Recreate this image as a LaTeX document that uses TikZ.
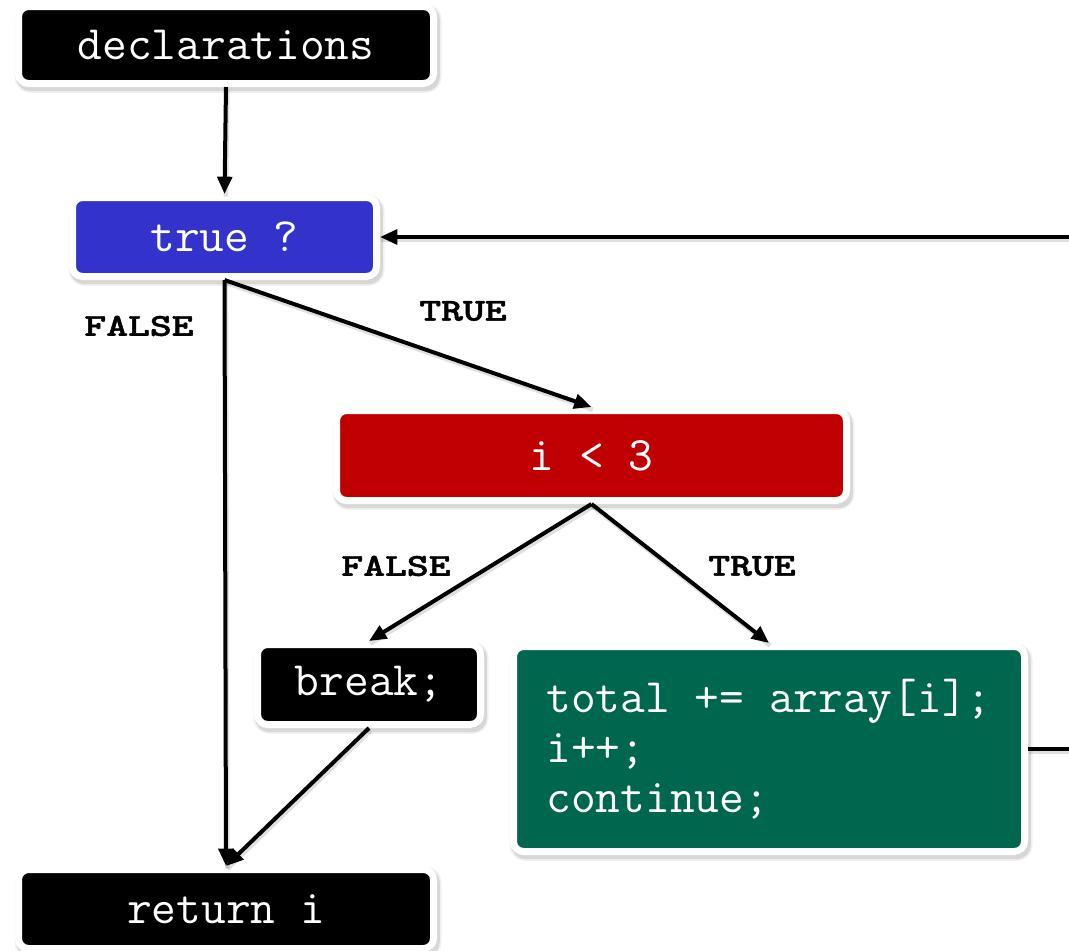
\documentclass[tikz,border=0pt]{standalone}
\usepackage{graphicx}
\usepackage{fontspec}
\newfontfamily\lblfont{lmmonolt10-bold}[Extension=.otf, FakeBold=1.2]
\usetikzlibrary{arrows.meta}

\definecolor{qblue}{RGB}{51,51,204}
\definecolor{qred}{RGB}{192,0,0}
\definecolor{qgreen}{RGB}{0,103,79}

\begin{document}
\begin{tikzpicture}[x=0.75pt,y=-0.75pt,
  softshadow/.style={
    preaction={draw=black, fill=black, opacity=0.06, line width=9pt,
      transform canvas={xshift=1.5pt,yshift=-2.5pt}},
    preaction={draw=black, fill=black, opacity=0.10, line width=6.5pt,
      transform canvas={xshift=1.5pt,yshift=-2.5pt}}},
  codebox/.style={softshadow, draw=white, line width=5.25pt, rounded corners=7.5pt,
    text=white, inner sep=0pt,
    font=\ttfamily\fontsize{36}{37.5}\selectfont},
  lbl/.style={inner sep=0pt, font=\lblfont\fontsize{24}{28}\selectfont},
  arr/.style={line width=3pt, -{Triangle[length=13pt,width=11pt]},
    preaction={draw=black, opacity=0.12, line width=3.5pt, -,
      transform canvas={xshift=1pt,yshift=-2pt}}}
]
\clip (0,0) rectangle (1069,950);
\fill[white] (0,0) rectangle (1069,950);

% statement boxes
\node[codebox, fill=black, minimum width=311.25pt, minimum height=57.75pt]
  (decl) at (226,45) {declarations};
\node[codebox, fill=qblue, minimum width=228pt, minimum height=59.25pt]
  (loop) at (224.5,237) {true ?};
\node[codebox, fill=qred, minimum width=382.5pt, minimum height=67.5pt]
  (cond) at (591.5,455.5) {i < 3};
\node[codebox, fill=black, minimum width=167.25pt, minimum height=60pt]
  (brk) at (369,684.5) {break;};
\node[codebox, fill=qgreen, minimum width=383.25pt, minimum height=153.75pt, align=left]
  (body) at (769,749) {total += array[i];\\i++;\\continue;};
\node[codebox, fill=black, minimum width=311.25pt, minimum height=59.25pt]
  (ret) at (226,909) {return i};

% branch labels
\node[lbl] (f1) at (139,326) {\scalebox{1.3}[1]{FALSE}};
\node[lbl] (t1) at (463,311) {\scalebox{1.3}[1]{TRUE}};
\node[lbl] (f2) at (396,566) {\scalebox{1.3}[1]{FALSE}};
\node[lbl] (t2) at (752,566) {\scalebox{1.3}[1]{TRUE}};

% loop-back route along the right edge
\coordinate (back1) at (1078,749);
\coordinate (back2) at (1078,237);

% connectors
\draw[arr] (decl.south) -- (loop.north);
\draw[arr] (loop.south) -- (ret.north);
\draw[arr] (loop.south) -- (cond.north);
\draw[arr] (cond.south) -- (brk.north);
\draw[arr] (cond.south) -- (body.north);
\draw[arr] (brk.south) -- (ret.north);
\draw[arr, line join=miter] (body.east) -- (back1) -- (back2) -- (loop.east);
\end{tikzpicture}
\end{document}
